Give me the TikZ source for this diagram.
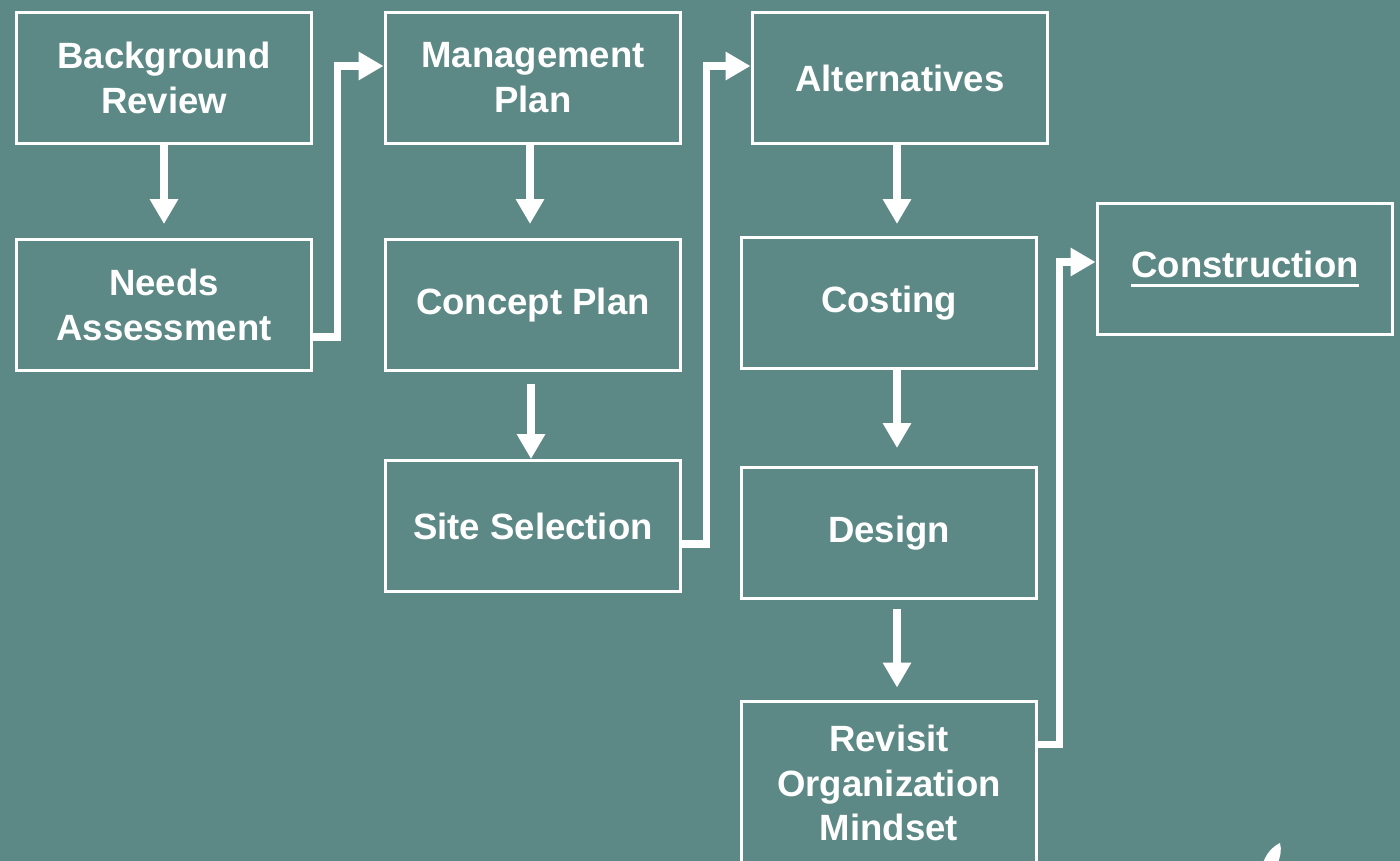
\documentclass[tikz,border=0pt]{standalone}
\usepackage{fontspec}
\setmainfont{Liberation Sans}
\usetikzlibrary{arrows.meta}
\definecolor{slate}{RGB}{92,137,134}
\newcommand{\thickul}[1]{\setbox0\hbox{#1}\rlap{\rule[-5.5pt]{\wd0}{2pt}}\box0}

\begin{document}
\begin{tikzpicture}[line cap=butt,line join=miter,x=0.02cm,y=-0.02cm,
    stage/.style={draw=white,line width=1.7pt,minimum width=5.92cm,minimum height=2.62cm,
      align=center,text=white,font=\fontsize{20.8}{25.5}\selectfont\bfseries,inner sep=0pt},
    flow/.style={draw=white,line width=4.5pt,-{Triangle[width=0.54cm,length=0.5cm]}}]
      \useasboundingbox (0,0) rectangle (1400,861);
      \clip (0,0) rectangle (1400,861);
      \fill[slate] (0,0) rectangle (1400,861);
      % first column
      \node[stage] (bgrev) at (164,78) {Background\\Review};
      \node[stage] (needs) at (164,305) {Needs\\Assessment};
      % second column
      \node[stage] (mgmt) at (533,78) {Management\\Plan};
      \node[stage] (concept) at (533,305) {Concept Plan};
      \node[stage] (site) at (533,526) {Site Selection};
      % third column
      \node[stage] (alt) at (900,78) {Alternatives};
      \node[stage] (cost) at (889,303) {Costing};
      \node[stage] (design) at (889,533) {Design};
      \node[stage,minimum height=3.28cm] (revisit) at (889,783) {Revisit\\Organization\\Mindset};
      % last step
      \node[stage] (constr) at (1245,269) {\thickul{Construction}};
      % down arrows
      \draw[flow,shorten >=0.28cm] (bgrev.south) -- (needs.north);
      \draw[flow,shorten >=0.28cm] ([xshift=-0.06cm]mgmt.south) -- ([xshift=-0.06cm]concept.north);
      \draw[flow,shorten <=0.24cm] ([xshift=-0.04cm]concept.south) -- ([xshift=-0.04cm]site.north);
      \draw[flow,shorten >=0.24cm] ([xshift=-0.06cm]alt.south) -- ([xshift=-0.06cm]alt.south |- cost.north);
      \draw[flow,shorten >=0.36cm] ([xshift=0.16cm]cost.south) -- ([xshift=0.16cm]design.north);
      \draw[flow,shorten <=0.18cm,shorten >=0.24cm] ([xshift=0.16cm]design.south) -- ([xshift=0.16cm]revisit.north);
      % elbow arrows
      \draw[flow] ([yshift=-0.64cm]needs.east) -- ++(24,0) |- ([yshift=0.24cm]mgmt.west);
      \draw[flow] ([yshift=-0.36cm]site.east) -- ++(24,0) |- ([yshift=0.24cm]alt.west);
      \draw[flow] ([yshift=-0.9cm]revisit.north east) -- ++(21,0) |- ([yshift=0.14cm]constr.west);
      % mark in the corner
      \fill[white] (1263,863) .. controls (1266,854) and (1272,847) .. (1280,843)
        .. controls (1282,850) and (1280,857) .. (1278,863) -- cycle;
\end{tikzpicture}
\end{document}
